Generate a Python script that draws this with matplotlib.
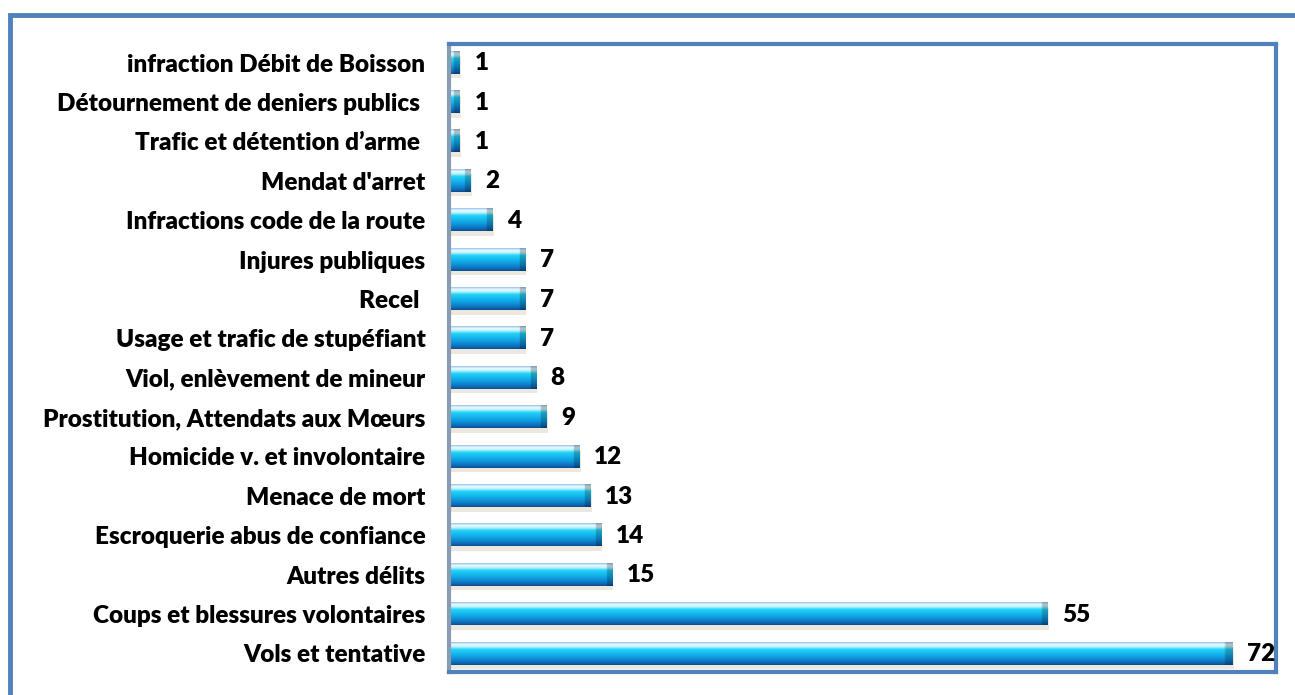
import numpy as np
import matplotlib
matplotlib.use('Agg')
import matplotlib.pyplot as plt
from matplotlib.patches import Rectangle
from matplotlib.colors import LinearSegmentedColormap

# Catégories d'infractions (de bas en haut) et nombre de cas
categories = [
    'Vols et tentative',
    'Coups et blessures volontaires',
    'Autres délits',
    'Escroquerie abus de confiance',
    'Menace de mort',
    'Homicide v. et involontaire',
    'Prostitution, Attendats aux Mœurs',
    'Viol, enlèvement de mineur',
    'Usage et trafic de stupéfiant',
    'Recel ',
    'Injures publiques',
    'Infractions code de la route',
    "Mendat d'arret",
    'Trafic et détention d’arme ',
    'Détournement de deniers publics ',
    'infraction Débit de Boisson',
]
valeurs = [72, 55, 15, 14, 13, 12, 9, 8, 7, 7, 7, 4, 2, 1, 1, 1]

bleu = '#4F81BD'
plt.rcParams['font.family'] = ['Lato', 'DejaVu Sans']
taille = 17.5
poids = 'heavy'

fig = plt.figure(figsize=(12.95, 6.95), dpi=100)
ax = fig.add_axes([449 / 1295, 1 - 672 / 695, 827 / 1295, 628 / 695])

# dégradé vertical façon cylindre (bas -> haut)
cyl = LinearSegmentedColormap.from_list('cyl', [
    (0.00, '#0e4c8c'),
    (0.10, '#0d6cb8'),
    (0.30, '#0f95dc'),
    (0.50, '#16b8ee'),
    (0.68, '#22d2f6'),
    (0.80, '#b8f2ff'),
    (0.90, '#eafcff'),
    (1.00, '#9cc4ea'),
])

h = 0.56
y = np.arange(len(categories))
lignes = cyl(np.linspace(0, 1, 64))[:, :3]

# ombre sous les barres
ax.barh(y - 0.12, valeurs, height=h, left=0.1, color='#ece7df', zorder=1)

for yi, v in zip(y, valeurs):
    ncol = 300
    xs = np.linspace(0, v, ncol)
    # extrémité droite plus sombre
    fact = np.where(xs > v - 0.55, 0.78, 1.0)
    img = lignes[:, None, :] * fact[None, :, None]
    ax.imshow(img, extent=(0, v, yi - h / 2, yi + h / 2), origin='lower',
              aspect='auto', interpolation='bilinear', zorder=2)
    ax.text(v + 1.35, yi - 0.02, str(v), va='center', ha='left',
            fontsize=taille, fontweight=poids, color='black')

ax.set_xlim(0, 76)
ax.set_ylim(-0.47, len(categories) - 0.53)
ax.set_yticks(y)
ax.set_yticklabels(categories, fontsize=taille, fontweight=poids)
ax.tick_params(axis='y', length=0, pad=17)
ax.set_xticks([])
for s in ax.spines.values():
    s.set_color(bleu)
    s.set_linewidth(3)
ax.spines['left'].set_color('#8a9cb4')

# cadre extérieur du graphique
fig.patches.append(Rectangle((10 / 1295, -0.05), 1.1, 1 - 15 / 695 + 0.05,
                             transform=fig.transFigure, fill=False,
                             edgecolor=bleu, linewidth=3.5, zorder=0))

fig.savefig('out.png', dpi=100)
